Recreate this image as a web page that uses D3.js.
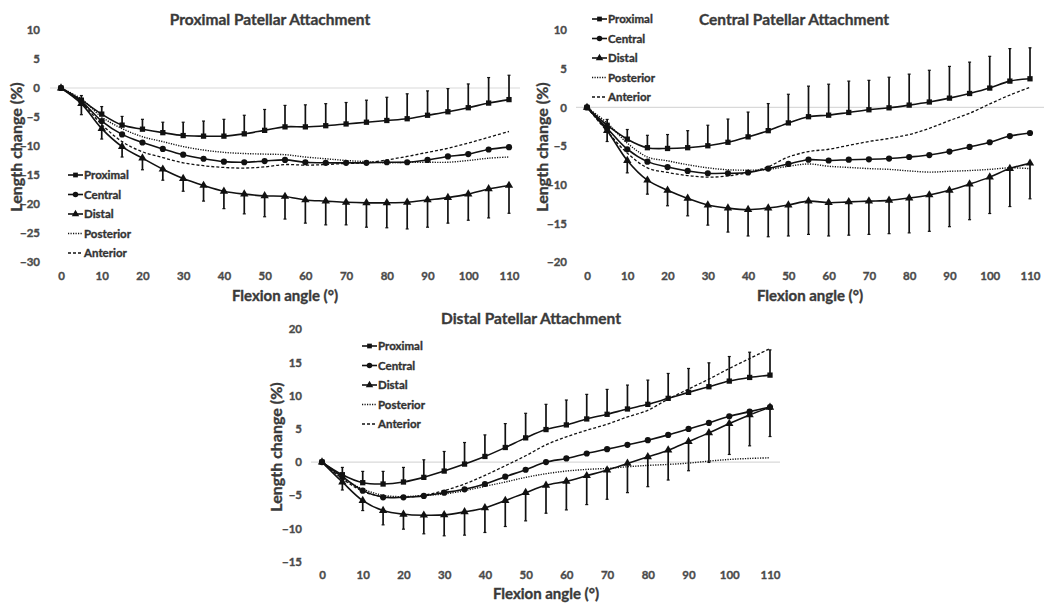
<!DOCTYPE html>
<html>
<head>
<meta charset="utf-8">
<script src="https://cdn.jsdelivr.net/npm/d3@7"></script>
<style>
  body { margin: 0; background: #fff; }
  text { font-family: Lato, "Open Sans", sans-serif; font-weight: bold; stroke-width: 0.35px; }
</style>
</head>
<body>
<svg id="chart" width="1044" height="603"></svg>
<script>
// flexion angles (x categories)
var angles = [0,5,10,15,20,25,30,35,40,45,50,55,60,65,70,75,80,85,90,95,100,105,110];
var xTicks = [0,10,20,30,40,50,60,70,80,90,100,110];
var seriesNames = ["Proximal", "Central", "Distal", "Posterior", "Anterior"];

// Proximal patellar attachment
var proxP1 = [0,-2.1,-4.5,-6.4,-7.1,-7.7,-8.2,-8.3,-8.3,-7.9,-7.3,-6.7,-6.7,-6.5,-6.2,-5.9,-5.6,-5.3,-4.7,-4.1,-3.4,-2.6,-2.0];
var proxSdP1 = [0,0.8,1.3,1.5,1.7,1.8,2.3,2.6,2.9,3.2,3.6,3.7,3.8,3.8,3.7,3.8,4.0,4.3,4.2,4.0,4.1,4.4,4.2];
var centP1 = [0,-2.3,-5.7,-8.0,-9.4,-10.5,-11.5,-12.2,-12.7,-12.8,-12.6,-12.4,-12.8,-12.9,-12.9,-12.9,-12.8,-12.8,-12.4,-11.8,-11.4,-10.6,-10.2];
var distP1 = [0,-2.7,-7.0,-10.1,-12.1,-14.0,-15.6,-16.8,-17.8,-18.3,-18.6,-18.7,-19.3,-19.5,-19.7,-19.8,-19.8,-19.7,-19.3,-18.9,-18.3,-17.4,-16.8];
var distSdP1 = [0,1.9,1.8,1.8,2.0,1.9,2.2,2.7,3.0,3.4,3.6,3.9,4.0,4.1,3.9,4.2,4.3,4.6,4.7,4.4,4.5,5.0,4.8];
var postP1 = [0,-1.9,-5.0,-7.0,-8.4,-9.25,-10.1,-10.7,-11.1,-11.3,-11.4,-11.5,-11.9,-12.2,-12.5,-12.7,-12.9,-12.8,-12.8,-12.8,-12.5,-12.1,-11.9];
var antP1 = [0,-2.5,-6.3,-9.25,-11.0,-12.0,-12.9,-13.4,-13.7,-13.8,-13.6,-13.2,-13.3,-13.2,-13.0,-12.9,-12.4,-11.8,-11.1,-10.4,-9.5,-8.5,-7.5];
var yTicksP1 = [10,5,0,-5,-10,-15,-20,-25,-30];

// Central patellar attachment
var proxP2 = [0,-2.3,-4.1,-5.2,-5.3,-5.2,-4.95,-4.5,-3.8,-3.0,-2.0,-1.2,-1.0,-0.65,-0.3,-0.05,0.3,0.7,1.2,1.8,2.5,3.4,3.7];
var proxSdP2 = [0,0.75,1.25,1.6,1.8,2.2,2.65,3.0,3.2,3.5,3.7,3.95,4.0,4.05,3.8,3.95,4.0,4.1,4.1,4.05,4.1,4.2,4.0];
var centP2 = [0,-2.7,-5.4,-7.0,-7.7,-8.2,-8.5,-8.5,-8.4,-7.9,-7.3,-6.75,-6.85,-6.75,-6.7,-6.6,-6.4,-6.15,-5.7,-5.1,-4.5,-3.7,-3.3];
var distP2 = [0,-3.0,-6.85,-9.4,-10.7,-11.75,-12.6,-13.0,-13.2,-13.0,-12.6,-12.1,-12.3,-12.2,-12.1,-12.0,-11.7,-11.3,-10.7,-9.9,-9.0,-7.9,-7.2];
var distSdP2 = [0,1.4,1.6,1.8,2.0,2.25,2.6,3.1,3.4,3.7,4.0,4.3,4.3,4.3,4.3,4.3,4.5,4.7,4.7,4.6,4.7,4.9,4.6];
var postP2 = [0,-2.0,-4.6,-6.4,-6.9,-7.4,-7.8,-8.05,-8.1,-8.0,-7.6,-7.3,-7.6,-7.75,-7.9,-8.0,-8.2,-8.35,-8.25,-8.15,-8.0,-7.8,-7.9];
var antP2 = [0,-3.1,-5.9,-7.8,-8.4,-8.8,-9.0,-8.85,-8.4,-7.65,-6.4,-5.7,-5.4,-4.9,-4.4,-4.0,-3.5,-2.7,-1.7,-0.75,0.45,1.6,2.6];
var yTicksP2 = [10,5,0,-5,-10,-15,-20];

// Distal patellar attachment
var proxP3 = [0,-1.9,-3.1,-3.3,-3.0,-2.3,-1.35,-0.3,0.85,2.2,3.65,4.9,5.6,6.5,7.2,8.0,8.7,9.6,10.5,11.35,12.2,12.75,13.1];
var proxSdP3 = [0,1.1,1.7,1.9,2.2,2.65,2.95,3.25,3.25,3.6,3.7,3.8,3.75,3.7,3.75,3.6,3.65,3.75,3.6,3.6,3.7,3.8,3.8];
var centP3 = [0,-2.2,-4.3,-5.3,-5.3,-5.1,-4.6,-4.1,-3.3,-2.2,-1.15,0,0.55,1.3,1.95,2.6,3.3,4.1,5.0,5.9,6.9,7.6,8.3];
var distP3 = [0,-3.0,-5.8,-7.3,-7.85,-8.0,-7.95,-7.5,-6.9,-5.8,-4.6,-3.5,-2.9,-2.05,-1.2,-0.2,0.8,1.8,3.1,4.4,5.8,7.1,8.25];
var distSdP3 = [0,1.2,1.5,2.15,2.25,2.8,3.15,3.5,3.7,3.9,4.25,4.2,4.3,4.35,4.4,4.4,4.5,4.5,4.4,4.45,4.65,4.65,4.4];
var postP3 = [0,-2.4,-4.05,-5.0,-5.2,-5.0,-4.8,-4.3,-3.65,-3.0,-2.3,-1.75,-1.35,-1.1,-0.95,-0.7,-0.5,-0.35,-0.15,0.15,0.4,0.55,0.65];
var antP3 = [0,-2.5,-4.4,-5.2,-5.3,-5.0,-4.3,-3.3,-2.0,-0.55,0.95,2.6,3.8,4.8,5.7,6.8,7.8,9.5,11.0,12.5,14.1,15.6,17.1];
var yTicksP3 = [20,15,10,5,0,-5,-10,-15];

var svg = d3.select("#chart");
var symbols = [d3.symbolSquare, d3.symbolCircle, d3.symbolTriangle];
var symSize = [28, 30, 30];
var dashes = [null, null, null, "1.2,1.3", "3,2"];
var lineW = [1.6, 1.6, 1.6, 1.4, 1.3];

// draw one panel
function drawPanel(p) {
  var g = svg.append("g");
  var x = d3.scaleLinear().domain([0, 110]).range([p.x0, p.x1]);
  var y = d3.scaleLinear().domain([p.yTicks[0], p.yTicks[p.yTicks.length - 1]]).range([p.yTop, p.yBot]);

  // zero line
  g.append("line")
    .attr("x1", p.plotL).attr("x2", p.plotR)
    .attr("y1", y(0)).attr("y2", y(0))
    .attr("stroke", "#d9d9d9").attr("stroke-width", 1.2);

  // y tick labels
  var yAxis = d3.axisLeft(y).tickValues(p.yTicks).tickSize(0).tickPadding(0);
  g.append("g").attr("transform", "translate(" + p.yLabX + ",0)").call(yAxis)
    .call(a => a.select(".domain").remove())
    .selectAll("text").attr("fill", "#4a4a4a").attr("stroke", "#4a4a4a").attr("font-size", 11.5)
    .attr("font-family", "Lato, sans-serif").attr("font-weight", "bold");

  // x tick labels
  var xAxis = d3.axisBottom(x).tickValues(xTicks).tickSize(0).tickPadding(0);
  g.append("g").attr("transform", "translate(0," + p.xLabY + ")").call(xAxis)
    .call(a => a.select(".domain").remove())
    .selectAll("text").attr("fill", "#4a4a4a").attr("stroke", "#4a4a4a").attr("font-size", 11.5)
    .attr("font-family", "Lato, sans-serif").attr("font-weight", "bold");

  // error bars
  var errs = [[p.series[0], p.sdUp, -1], [p.series[2], p.sdDown, 1]];
  errs.forEach(function(e) {
    var vals = e[0], sd = e[1], dir = e[2];
    angles.forEach(function(a, i) {
      if (!sd[i]) return;
      var yEnd = y(vals[i] - dir * sd[i]);
      g.append("line").attr("x1", x(a)).attr("x2", x(a))
        .attr("y1", y(vals[i])).attr("y2", yEnd)
        .attr("stroke", "#111").attr("stroke-width", 1.7);
      g.append("line").attr("x1", x(a) - 1.5).attr("x2", x(a) + 1.5)
        .attr("y1", yEnd).attr("y2", yEnd)
        .attr("stroke", "#111").attr("stroke-width", 1.2);
    });
  });

  // lines
  var line = d3.line().x((d, i) => x(angles[i])).y(d => y(d)).curve(d3.curveCatmullRom.alpha(0.5));
  [3, 4, 2, 1, 0].forEach(function(k) {
    g.append("path").datum(p.series[k])
      .attr("d", line).attr("fill", "none")
      .attr("stroke", "#111").attr("stroke-width", lineW[k])
      .attr("stroke-dasharray", dashes[k]);
  });

  // markers
  [0, 1, 2].forEach(function(k) {
    g.selectAll(null).data(p.series[k]).enter().append("path")
      .attr("d", d3.symbol(symbols[k], symSize[k]))
      .attr("transform", (d, i) => "translate(" + x(angles[i]) + "," + y(d) + ")")
      .attr("fill", "#111");
  });

  // legend
  seriesNames.forEach(function(name, k) {
    var ly = p.legY + k * 19.5;
    g.append("line").attr("x1", p.legX).attr("x2", p.legX + 15)
      .attr("y1", ly).attr("y2", ly)
      .attr("stroke", "#111").attr("stroke-width", lineW[k])
      .attr("stroke-dasharray", dashes[k]);
    if (k < 3) {
      g.append("path").attr("d", d3.symbol(symbols[k], symSize[k] * 0.8))
        .attr("transform", "translate(" + (p.legX + 7.5) + "," + ly + ")")
        .attr("fill", "#111");
    }
    g.append("text").attr("x", p.legX + 16).attr("y", ly).attr("dy", "0.35em")
      .attr("font-size", 11.5).attr("fill", "#333").attr("stroke", "#333").text(name);
  });

  // title
  g.append("text").attr("x", p.titleX).attr("y", p.titleY)
    .attr("text-anchor", "middle").attr("font-size", 15.5).attr("fill", "#3a3a3a").attr("stroke", "#3a3a3a")
    .text(p.title);

  // axis titles
  g.append("text").attr("x", p.xTitleX).attr("y", p.xTitleY)
    .attr("text-anchor", "middle").attr("font-size", 15).attr("fill", "#3a3a3a").attr("stroke", "#3a3a3a")
    .text("Flexion angle (°)");
  g.append("text")
    .attr("transform", "translate(" + p.yTitleX + "," + p.yTitleY + ") rotate(-90)")
    .attr("text-anchor", "middle").attr("font-size", 16).attr("fill", "#3a3a3a").attr("stroke", "#3a3a3a")
    .text("Length change (%)");
}

drawPanel({
  title: "Proximal Patellar Attachment", titleX: 270, titleY: 25,
  x0: 61, x1: 509, plotL: 50, plotR: 520,
  yTicks: yTicksP1, yTop: 30, yBot: 262,
  yLabX: 40, xLabY: 272,
  series: [proxP1, centP1, distP1, postP1, antP1], sdUp: proxSdP1, sdDown: distSdP1,
  legX: 68, legY: 175,
  xTitleX: 285, xTitleY: 301, yTitleX: 22, yTitleY: 147
});

drawPanel({
  title: "Central Patellar Attachment", titleX: 794, titleY: 25,
  x0: 587, x1: 1030, plotL: 576, plotR: 1044,
  yTicks: yTicksP2, yTop: 30, yBot: 262.3,
  yLabX: 567, xLabY: 272,
  series: [proxP2, centP2, distP2, postP2, antP2], sdUp: proxSdP2, sdDown: distSdP2,
  legX: 592, legY: 19,
  xTitleX: 810, xTitleY: 301, yTitleX: 548, yTitleY: 147
});

drawPanel({
  title: "Distal Patellar Attachment", titleX: 531, titleY: 324,
  x0: 322, x1: 770, plotL: 311, plotR: 780,
  yTicks: yTicksP3, yTop: 329.3, yBot: 561.7,
  yLabX: 302, xLabY: 571,
  series: [proxP3, centP3, distP3, postP3, antP3], sdUp: proxSdP3, sdDown: distSdP3,
  legX: 362, legY: 346,
  xTitleX: 546, xTitleY: 599, yTitleX: 282, yTitleY: 447
});
</script>
</body>
</html>
